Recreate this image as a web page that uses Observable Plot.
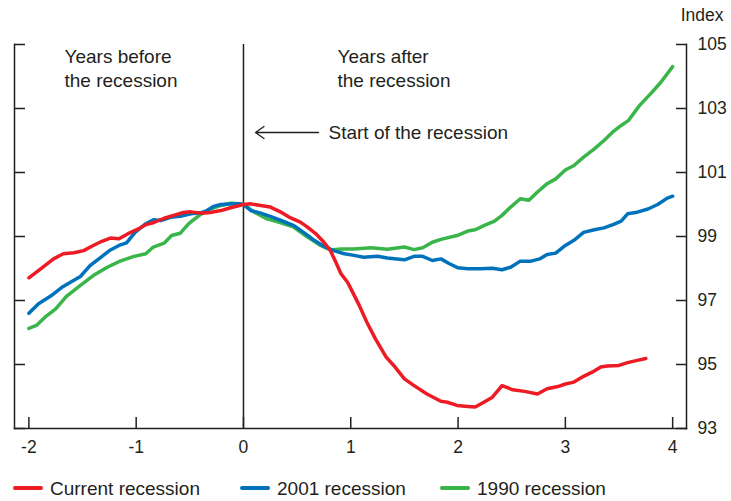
<!DOCTYPE html>
<html><head><meta charset="utf-8">
<script src="https://cdn.jsdelivr.net/npm/d3@7"></script>
<script src="https://cdn.jsdelivr.net/npm/@observablehq/plot@0.6"></script>
<style>
body{margin:0;background:#fff;font-family:"Liberation Sans",Arial,sans-serif;color:#231f20}
#legend{position:relative;height:31px;width:731px}
.sw{position:absolute;top:16px;width:30px;height:4px;border-radius:2px}
.lb{position:absolute;top:9px;font-size:19px;line-height:19px;white-space:nowrap}
</style></head><body><div id="chart"></div><div id="legend"></div>
<script>
// ---- data (years relative to recession start, index = 100 at start) ----
const currentYears = [-2.0,-1.89,-1.77,-1.68,-1.58,-1.49,-1.40,-1.32,-1.24,-1.16,-1.08,-0.99,-0.91,-0.84,-0.74,-0.65,-0.56,-0.49,-0.40,-0.31,-0.21,-0.12,0,0.07,0.16,0.25,0.35,0.44,0.53,0.59,0.67,0.75,0.81,0.86,0.91,0.97,1.01,1.08,1.15,1.23,1.33,1.40,1.50,1.59,1.71,1.84,1.90,1.99,2.09,2.16,2.24,2.32,2.41,2.51,2.62,2.74,2.83,2.93,3.00,3.08,3.17,3.25,3.33,3.39,3.50,3.58,3.67,3.75];
const currentValues = [97.71,97.99,98.30,98.46,98.49,98.56,98.72,98.85,98.95,98.93,99.08,99.22,99.37,99.43,99.57,99.66,99.75,99.77,99.73,99.75,99.81,99.90,100.0,100.02,99.97,99.92,99.76,99.58,99.45,99.31,99.10,98.82,98.56,98.20,97.83,97.57,97.31,96.84,96.32,95.80,95.23,94.97,94.55,94.34,94.08,93.85,93.82,93.72,93.69,93.67,93.82,93.98,94.34,94.21,94.16,94.08,94.24,94.31,94.39,94.45,94.63,94.76,94.92,94.95,94.97,95.06,95.13,95.19];

const r2001Years = [-2.0,-1.91,-1.80,-1.68,-1.52,-1.43,-1.33,-1.24,-1.16,-1.09,-1.01,-0.91,-0.84,-0.77,-0.68,-0.59,-0.49,-0.40,-0.34,-0.28,-0.21,-0.09,-0.03,0,0.03,0.07,0.16,0.25,0.35,0.47,0.56,0.66,0.75,0.84,0.94,1.03,1.12,1.25,1.34,1.43,1.50,1.59,1.67,1.76,1.84,1.92,2.0,2.09,2.21,2.32,2.41,2.49,2.58,2.68,2.76,2.83,2.91,3.0,3.08,3.17,3.27,3.36,3.45,3.52,3.58,3.67,3.77,3.86,3.95,4.0];
const r2001Values = [96.60,96.90,97.13,97.44,97.75,98.09,98.35,98.58,98.72,98.80,99.13,99.40,99.52,99.50,99.60,99.63,99.71,99.74,99.81,99.94,100.0,100.02,100.02,100.0,99.92,99.81,99.73,99.63,99.50,99.34,99.13,98.88,98.69,98.56,98.46,98.41,98.35,98.38,98.33,98.30,98.27,98.38,98.38,98.25,98.30,98.15,98.02,97.99,97.99,98.01,97.96,98.04,98.23,98.23,98.30,98.44,98.48,98.72,98.88,99.13,99.21,99.27,99.38,99.48,99.71,99.76,99.86,100.0,100.20,100.26];

const r1990Years = [-2.0,-1.93,-1.85,-1.75,-1.65,-1.52,-1.40,-1.27,-1.15,-1.02,-0.91,-0.84,-0.74,-0.67,-0.59,-0.51,-0.40,-0.31,-0.21,-0.12,-0.03,0,0.10,0.22,0.35,0.47,0.59,0.72,0.81,0.91,1.03,1.19,1.34,1.50,1.59,1.67,1.76,1.84,1.99,2.09,2.16,2.24,2.34,2.41,2.49,2.58,2.66,2.74,2.83,2.91,3.0,3.08,3.17,3.27,3.36,3.44,3.52,3.59,3.69,3.80,3.89,4.0];
const r1990Values = [96.13,96.22,96.48,96.74,97.13,97.47,97.78,98.04,98.23,98.38,98.46,98.67,98.79,99.03,99.10,99.40,99.69,99.86,99.97,100.04,100.02,100.0,99.76,99.55,99.43,99.29,99.0,98.72,98.58,98.61,98.61,98.65,98.60,98.67,98.59,98.65,98.82,98.91,99.03,99.17,99.21,99.34,99.48,99.66,99.92,100.18,100.13,100.39,100.65,100.80,101.08,101.22,101.48,101.74,102.0,102.26,102.47,102.63,103.09,103.48,103.82,104.31];

const seriesNames = ["Current recession", "2001 recession", "1990 recession"];
const seriesColors = ["#ed1c24", "#0072bc", "#39b54a"];
const xTicks = [-2, -1, 0, 1, 2, 3, 4];
const yTicks = [93, 95, 97, 99, 101, 103, 105];
const recessionStart = [0];

const ink = "#231f20";
const toRows = (xs, ys) => xs.map((x, i) => ({x, y: ys[i]}));
const current = toRows(currentYears, currentValues);
const r2001 = toRows(r2001Years, r2001Values);
const r1990 = toRows(r1990Years, r1990Values);

const font = '"Liberation Sans", Arial, sans-serif';
const plot = Plot.plot({
  width: 731, height: 470,
  marginLeft: 14, marginRight: 45, marginTop: 44, marginBottom: 42,
  x: {domain: [-2.134, 4.129]},
  y: {domain: [93, 105]},
  style: {fontFamily: font, fontSize: "17.5px", color: ink, background: "white", overflow: "visible"},
  marks: [
    Plot.frame({anchor: "left", stroke: ink, strokeWidth: 1.5}),
    Plot.frame({anchor: "right", stroke: ink, strokeWidth: 1.5}),
    Plot.frame({anchor: "bottom", stroke: ink, strokeWidth: 1.5}),
    Plot.ruleX(recessionStart, {stroke: ink, strokeWidth: 1.5}),
    Plot.axisY({anchor: "right", ticks: yTicks, tickSize: -11, tickPadding: 22, textAnchor: "start", tickFormat: d => String(d), label: null, stroke: ink, strokeWidth: 1.5, fill: ink}),
    Plot.axisY({anchor: "left", ticks: yTicks, tickSize: -11, tickFormat: () => "", label: null, stroke: ink, strokeWidth: 1.5}),
    Plot.axisX({anchor: "bottom", ticks: xTicks, tickSize: -11, tickPadding: 23, tickFormat: d => String(d), label: null, stroke: ink, strokeWidth: 1.5, fill: ink}),
    Plot.lineY(r1990, {x: "x", y: "y", stroke: seriesColors[2], strokeWidth: 3.5}),
    Plot.lineY(r2001, {x: "x", y: "y", stroke: seriesColors[1], strokeWidth: 3.5}),
    Plot.lineY(current, {x: "x", y: "y", stroke: seriesColors[0], strokeWidth: 3.5}),
    Plot.text(["Index"], {frameAnchor: "top-right", dx: 37, dy: -24, textAnchor: "end", lineAnchor: "bottom", fill: ink, fontSize: 17.5}),
    Plot.text(["Years before\nthe recession"], {frameAnchor: "top-left", dx: 50, dy: 1, textAnchor: "start", lineAnchor: "top", lineHeight: 1.263, fill: ink, fontSize: 19}),
    Plot.text(["Years after\nthe recession"], {frameAnchor: "top-left", dx: 323, dy: 1, textAnchor: "start", lineAnchor: "top", lineHeight: 1.263, fill: ink, fontSize: 19}),
    Plot.text(["Start of the recession"], {frameAnchor: "top-left", dx: 314, dy: 81, textAnchor: "start", lineAnchor: "top", fill: ink, fontSize: 19}),
    Plot.arrow([{x1: 0.699, x2: 0.112, y: 102.25}], {x1: "x1", x2: "x2", y1: "y", y2: "y", stroke: ink, strokeWidth: 1.3, headLength: 12, headAngle: 70})
  ]
});
document.getElementById("chart").appendChild(plot);

const legend = document.getElementById("legend");
const legendX = [13, 240, 440];
seriesNames.forEach((name, i) => {
  const sw = document.createElement("div");
  sw.className = "sw"; sw.style.left = legendX[i] + "px"; sw.style.background = seriesColors[i];
  const lb = document.createElement("div");
  lb.className = "lb"; lb.style.left = (legendX[i] + 37) + "px"; lb.textContent = name;
  legend.appendChild(sw); legend.appendChild(lb);
});
</script></body></html>
